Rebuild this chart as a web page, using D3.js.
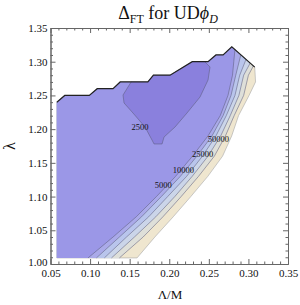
<!DOCTYPE html>
<html><head><meta charset="utf-8">
<script src="https://cdn.jsdelivr.net/npm/d3@7"></script>
<style>body{margin:0;background:#fff}svg{display:block}</style>
</head><body>
<svg id="c" width="300" height="305"></svg>
<script>
// ---- data ----
const xTickLabels = ["0.05","0.10","0.15","0.20","0.25","0.30","0.35"];
const yTickLabels = ["1.00","1.05","1.10","1.15","1.20","1.25","1.30","1.35"];
const levels = [2500, 5000, 10000, 25000, 50000, 100000];
const labelledLevels = [2500, 5000, 10000, 25000, 50000];
const bandColors = ["#8a80dd","#9b97e7","#aaaae9","#b9c5ec","#cbd5e9","#dedfd9","#efe6cf"]; // <2500 ... >100000
// domain boundary
const leftX = 0.058, bottomY = 1.009;
const topBoundary = [[0.058,1.24],[0.068,1.25],[0.099,1.25],[0.109,1.26],[0.129,1.26],[0.138,1.27],[0.173,1.27],[0.18,1.28],[0.201,1.28],[0.229,1.30],[0.249,1.30],[0.259,1.31],[0.268,1.31],[0.279,1.322]];
const rightBoundary = [[0.308,1.292],[0.309,1.27],[0.3008,1.25],[0.2875,1.22],[0.2789,1.19],[0.2674,1.16],[0.2487,1.13],[0.2272,1.10],[0.205,1.07],[0.1818,1.04],[0.1593,1.009]];
// contour lines
const contour2500 = [[0.152,1.2703],[0.1416,1.2506],[0.1429,1.2388],[0.1542,1.2239],[0.1694,1.2032],[0.1782,1.1839],[0.1808,1.178],[0.1909,1.178],[0.1934,1.1883],[0.2073,1.2032],[0.2224,1.2239],[0.2389,1.2477],[0.249,1.2729],[0.2515,1.2922],[0.2452,1.2996]];
const contour5000 = [[0.0974,1.009],[0.129,1.04],[0.1583,1.07],[0.1838,1.10],[0.208,1.13],[0.2294,1.16],[0.249,1.19],[0.2644,1.22],[0.2742,1.25],[0.2799,1.28],[0.2815,1.30],[0.283,1.318]];
const contour10000 = [[0.108,1.009],[0.137,1.04],[0.165,1.07],[0.190,1.10],[0.214,1.13],[0.235,1.16],[0.254,1.19],[0.268,1.22],[0.278,1.25],[0.284,1.28],[0.2903,1.3097]];
const contour25000 = [[0.118,1.009],[0.146,1.04],[0.174,1.07],[0.198,1.10],[0.222,1.13],[0.242,1.16],[0.259,1.19],[0.272,1.22],[0.283,1.25],[0.289,1.28],[0.297,1.3035]];
const contour50000 = [[0.127,1.009],[0.156,1.04],[0.183,1.07],[0.207,1.10],[0.229,1.13],[0.249,1.16],[0.265,1.19],[0.277,1.22],[0.288,1.25],[0.294,1.28],[0.3023,1.2981]];
const contour100000 = [[0.137,1.009],[0.167,1.04],[0.192,1.07],[0.215,1.10],[0.237,1.13],[0.257,1.16],[0.271,1.19],[0.282,1.22],[0.294,1.25],[0.300,1.28],[0.3064,1.2939]];
const openContours = [contour5000, contour10000, contour25000, contour50000, contour100000];
const labelPos = [[0.1631,1.2036],[0.1925,1.1171],[0.2178,1.1394],[0.2423,1.1627],[0.262,1.185]];

// ---- drawing ----
const svg = d3.select("#c");
const x = d3.scaleLinear().domain([0.05,0.35]).range([50.5,288]);
const y = d3.scaleLinear().domain([1.00,1.35]).range([264,28]);
const line = d3.line().x(d=>x(d[0])).y(d=>y(d[1]));
const serif = "'Liberation Serif','Times New Roman',serif";

const g = svg.append("g");
// whole domain (highest band)
const domainPoly = [[leftX,bottomY], ...topBoundary, ...rightBoundary];
g.append("path").attr("d", line(domainPoly)+"Z").attr("fill", bandColors[6]).attr("stroke","#a8a8a8").attr("stroke-width",0.6);
// open contours, from highest to lowest level
for (let i = openContours.length-1; i >= 0; i--) {
  const c = openContours[i];
  const poly = [[leftX,bottomY], ...topBoundary, ...c.slice().reverse()];
  g.append("path").attr("d", line(poly)+"Z").attr("fill", bandColors[i+1]);
}
// closed 2500 region
const x0 = contour2500[0][0], x1 = contour2500[contour2500.length-1][0];
const topPart = topBoundary.filter(p => p[0] > x0 && p[0] < x1).reverse();
g.append("path").attr("d", line([...contour2500, ...topPart])+"Z").attr("fill", bandColors[0]);
// contour lines
[contour2500, ...openContours].forEach(c => {
  g.append("path").attr("d", line(c)).attr("fill","none").attr("stroke","#5a5a7a").attr("stroke-opacity",0.75).attr("stroke-width",0.7);
});
// top outline
g.append("path").attr("d", line([...topBoundary, rightBoundary[0]])).attr("fill","none").attr("stroke","#222").attr("stroke-width",1.2);

// contour labels
labelledLevels.forEach((lv,i) => {
  g.append("text").attr("x", x(labelPos[i][0])).attr("y", y(labelPos[i][1]))
   .attr("text-anchor","middle").attr("dominant-baseline","central")
   .attr("font-family", serif).attr("font-size", 8.5).attr("fill","#111").text(lv);
});

// frame + ticks
const frameColor = "#666";
const xMajor = xTickLabels.map(Number), yMajor = yTickLabels.map(Number);
const xMinor = d3.range(0.05, 0.3501, 0.01).filter(v => !xMajor.some(m => Math.abs(m-v) < 1e-6));
const yMinor = d3.range(1.00, 1.3501, 0.01).filter(v => !yMajor.some(m => Math.abs(m-v) < 1e-6));
function addAxis(axisGen, transform, vals, size, labels, pad) {
  const a = svg.append("g").attr("transform", transform)
    .call(axisGen.tickValues(vals).tickSizeInner(size).tickSizeOuter(0).tickPadding(pad || 3)
      .tickFormat(labels ? (d,i)=>labels[i] : () => ""));
  a.select(".domain").attr("stroke", frameColor);
  a.selectAll(".tick line").attr("stroke", frameColor);
  a.selectAll("text").attr("font-family", serif).attr("font-size", 11).attr("fill","#111");
  return a;
}
addAxis(d3.axisBottom(x), "translate(0,264)", xMajor, -5, xTickLabels, 5);
addAxis(d3.axisBottom(x), "translate(0,264)", xMinor, -2.5, null);
addAxis(d3.axisTop(x), "translate(0,28)", xMajor, -5, null);
addAxis(d3.axisTop(x), "translate(0,28)", xMinor, -2.5, null);
const yl = addAxis(d3.axisLeft(y), "translate(50.5,0)", yMajor, -5, yTickLabels, 3);
yl.selectAll(".tick").filter(d => d === 1.00).select("text").attr("dy", "0.1em");
addAxis(d3.axisLeft(y), "translate(50.5,0)", yMinor, -2.5, null);
addAxis(d3.axisRight(y), "translate(288,0)", yMajor, -5, null);
addAxis(d3.axisRight(y), "translate(288,0)", yMinor, -2.5, null);

// title
const t = svg.append("text").attr("x", 168).attr("y", 19).attr("text-anchor","middle")
  .attr("font-family", serif).attr("font-size", 18).attr("fill","#111");
t.append("tspan").text("Δ");
t.append("tspan").attr("font-size", 12).attr("dy", 4).text("FT");
t.append("tspan").attr("dy", -4).text(" for UD");
t.append("tspan").attr("font-style","italic").text("ϕ");
t.append("tspan").attr("font-style","italic").attr("font-size", 12).attr("dy", 4).text("D");

// axis labels
svg.append("text").attr("x", 170).attr("y", 299).attr("text-anchor","middle")
  .attr("font-family", serif).attr("font-size", 13).attr("fill","#111").text("Λ/M");
svg.append("text").attr("transform","translate(9,146) rotate(-90)").attr("text-anchor","middle")
  .attr("dominant-baseline","central")
  .attr("font-family", serif).attr("font-size", 16).attr("fill","#111").text("λ");
</script>
</body></html>
